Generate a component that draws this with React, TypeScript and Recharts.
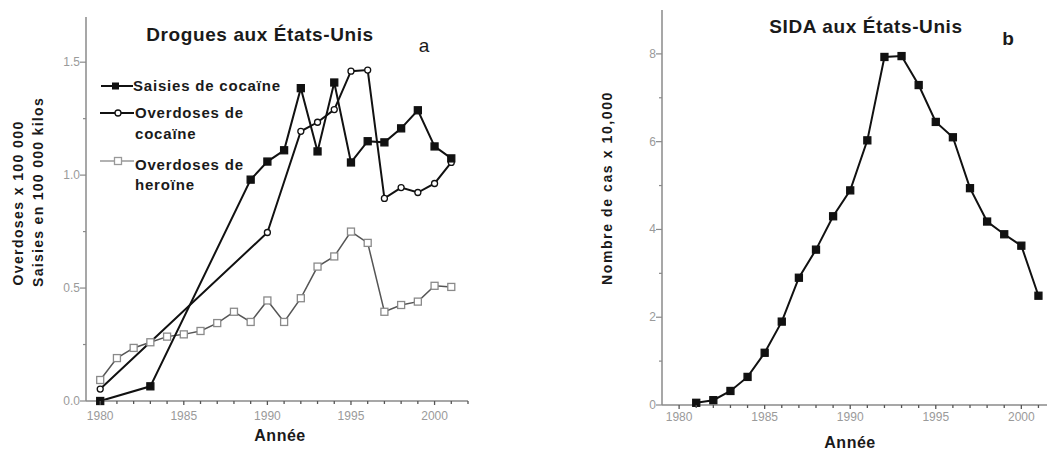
import React from "react";
import { LineChart, Line, XAxis, YAxis } from "recharts";

// --- data ---
const years = [1980, 1981, 1982, 1983, 1984, 1985, 1986, 1987, 1988, 1989, 1990, 1991, 1992, 1993, 1994, 1995, 1996, 1997, 1998, 1999, 2000, 2001];

const seizureYears = [1980, 1983, 1989, 1990, 1991, 1992, 1993, 1994, 1995, 1996, 1997, 1998, 1999, 2000, 2001];
const seizureValues = [0.0, 0.065, 0.98, 1.06, 1.11, 1.385, 1.105, 1.41, 1.056, 1.15, 1.145, 1.207, 1.287, 1.127, 1.074];

const cocaineOdYears = [1980, 1990, 1992, 1993, 1994, 1995, 1996, 1997, 1998, 1999, 2000, 2001];
const cocaineOdValues = [0.053, 0.746, 1.194, 1.234, 1.29, 1.46, 1.465, 0.897, 0.945, 0.923, 0.963, 1.056];

const heroinYears = years;
const heroinValues = [0.093, 0.19, 0.235, 0.26, 0.285, 0.295, 0.31, 0.345, 0.395, 0.35, 0.445, 0.35, 0.455, 0.595, 0.64, 0.75, 0.7, 0.395, 0.425, 0.44, 0.51, 0.505];

const aidsYears = [1981, 1982, 1983, 1984, 1985, 1986, 1987, 1988, 1989, 1990, 1991, 1992, 1993, 1994, 1995, 1996, 1997, 1998, 1999, 2000, 2001];
const aidsValues = [0.05, 0.11, 0.32, 0.64, 1.19, 1.9, 2.9, 3.54, 4.3, 4.89, 6.03, 7.93, 7.95, 7.29, 6.45, 6.1, 4.94, 4.18, 3.89, 3.63, 2.49];

const leftYTicks = [0, 0.25, 0.5, 0.75, 1.0, 1.25, 1.5];
const leftYLabels = ["0.0", "", "0.5", "", "1.0", "", "1.5"];
const leftXTicks = [1980, 1981, 1982, 1983, 1984, 1985, 1986, 1987, 1988, 1989, 1990, 1991, 1992, 1993, 1994, 1995, 1996, 1997, 1998, 1999, 2000, 2001, 2002];
const rightYTicks = [0, 1, 2, 3, 4, 5, 6, 7, 8];
const rightYLabels = ["0", "", "2", "", "4", "", "6", "", "8"];
const rightXTicks = [1980, 1981, 1982, 1983, 1984, 1985, 1986, 1987, 1988, 1989, 1990, 1991, 1992, 1993, 1994, 1995, 1996, 1997, 1998, 1999, 2000, 2001];
const majorYears = [1980, 1985, 1990, 1995, 2000];

const lookup = (ys: number[], vs: number[], y: number) => {
  const i = ys.indexOf(y);
  return i < 0 ? null : vs[i];
};

const drugData = years.map((y) => ({
  year: y,
  seizures: lookup(seizureYears, seizureValues, y),
  cocaineOd: lookup(cocaineOdYears, cocaineOdValues, y),
  heroin: lookup(heroinYears, heroinValues, y),
}));

const aidsData = aidsYears.map((y, i) => ({ year: y, cases: aidsValues[i] }));

const FONT = '"Liberation Sans", Arial, sans-serif';
const AXIS = "#8a8a8a";
const TICK_TEXT = "#9a9a9a";

const squareDot = (fill: string, stroke: string, size: number) => (p: any) => {
  const { cx, cy, index, value } = p;
  if (cx == null || cy == null || value == null || (Array.isArray(value) && value[1] == null)) {
    return <g key={`e-${index}`} />;
  }
  return (
    <rect key={`s-${index}`} x={cx - size / 2} y={cy - size / 2} width={size} height={size}
      fill={fill} stroke={stroke} strokeWidth={1.3} />
  );
};

const circleDot = (p: any) => {
  const { cx, cy, index, value } = p;
  if (cx == null || cy == null || value == null || (Array.isArray(value) && value[1] == null)) {
    return <g key={`e-${index}`} />;
  }
  return <circle key={`c-${index}`} cx={cx} cy={cy} r={3} fill="#fff" stroke="#111" strokeWidth={1.3} />;
};

const makeXTick = (labelDy: number) => (p: any) => {
  const { x, y, payload } = p;
  const major = majorYears.includes(payload.value);
  return (
    <g>
      <line x1={x} x2={x} y1={y} y2={y + (major ? 4 : 3)} stroke="#555" strokeWidth={1.3} />
      {major && (
        <text x={x} y={y + labelDy} textAnchor="middle" fontSize={12} fill={TICK_TEXT} fontFamily={FONT}>
          {payload.value}
        </text>
      )}
    </g>
  );
};

const makeYTick = (ticks: number[], labels: string[]) => (p: any) => {
  const { x, y, payload } = p;
  const label = labels[ticks.indexOf(payload.value)] || "";
  return (
    <g>
      <line x1={x - (label ? 6 : 3)} x2={x} y1={y} y2={y} stroke={AXIS} strokeWidth={1.2} />
      {label && (
        <text x={x - 6} y={y + 4} textAnchor="end" fontSize={12} fill={TICK_TEXT} fontFamily={FONT}>
          {label}
        </text>
      )}
    </g>
  );
};

export default function App() {
  return (
    <div style={{ position: "fixed", left: 0, top: 0, width: 1047, height: 450, background: "#fff", fontFamily: FONT }}>
      <div style={{ position: "absolute", left: 0, top: 0 }}>
        <LineChart width={480} height={450} data={drugData} margin={{ top: 17, right: 12, bottom: 0, left: 0 }}>
          <XAxis dataKey="year" type="number" domain={[1979.15, 2002]} ticks={leftXTicks} interval={0}
            height={49} tickSize={0} tickMargin={0} tickLine={false}
            axisLine={{ stroke: AXIS, strokeWidth: 1.5 }} tick={makeXTick(19)} />
          <YAxis type="number" domain={[0, 1.7]} ticks={leftYTicks} interval={0} width={86}
            tickSize={0} tickMargin={0} tickLine={false}
            axisLine={{ stroke: AXIS, strokeWidth: 1.5 }} tick={makeYTick(leftYTicks, leftYLabels)} />
          <Line dataKey="heroin" type="linear" stroke="#555" strokeWidth={1.5} connectNulls
            dot={squareDot("#fff", "#8a8a8a", 7)} activeDot={false} isAnimationActive={false} />
          <Line dataKey="cocaineOd" type="linear" stroke="#111" strokeWidth={2} connectNulls
            dot={circleDot} activeDot={false} isAnimationActive={false} />
          <Line dataKey="seizures" type="linear" stroke="#111" strokeWidth={2} connectNulls
            dot={squareDot("#111", "#111", 7)} activeDot={false} isAnimationActive={false} />
        </LineChart>
      </div>

      <div style={{ position: "absolute", left: 560, top: 0 }}>
        <LineChart width={487} height={450} data={aidsData} margin={{ top: 10, right: 0, bottom: 0, left: 0 }}>
          <XAxis dataKey="year" type="number" domain={[1979, 2001.5]} ticks={rightXTicks} interval={0}
            height={45} tickSize={0} tickMargin={0} tickLine={false}
            axisLine={{ stroke: AXIS, strokeWidth: 1.5 }} tick={makeXTick(16)} />
          <YAxis type="number" domain={[0, 9]} ticks={rightYTicks} interval={0} width={102}
            tickSize={0} tickMargin={0} tickLine={false}
            axisLine={{ stroke: AXIS, strokeWidth: 1.5 }} tick={makeYTick(rightYTicks, rightYLabels)} />
          <Line dataKey="cases" type="linear" stroke="#111" strokeWidth={2}
            dot={squareDot("#111", "#111", 7)} activeDot={false} isAnimationActive={false} />
        </LineChart>
      </div>

      <svg width={1047} height={450} style={{ position: "absolute", left: 0, top: 0, pointerEvents: "none" }}>
        <g fontFamily={FONT} fill="#1a1a1a">
          {/* panel a */}
          <text x={260} y={41} textAnchor="middle" fontSize={19} fontWeight="bold" letterSpacing={0.6}>Drogues aux États-Unis</text>
          <text x={424} y={52} textAnchor="middle" fontSize={19}>a</text>

          <line x1={101} x2={133} y1={86} y2={86} stroke="#111" strokeWidth={2} />
          <rect x={112} y={82.5} width={7} height={7} fill="#111" />
          <text x={133} y={91} fontSize={15} fontWeight="bold" letterSpacing={0.8}>Saisies de cocaïne</text>

          <line x1={100} x2={134} y1={113} y2={113} stroke="#111" strokeWidth={2} />
          <circle cx={118} cy={113} r={3} fill="#fff" stroke="#111" strokeWidth={1.3} />
          <text x={135} y={118} fontSize={15} fontWeight="bold" letterSpacing={0.8}>Overdoses de</text>
          <text x={135} y={139} fontSize={15} fontWeight="bold" letterSpacing={0.8}>cocaïne</text>

          <line x1={100} x2={134} y1={161} y2={161} stroke="#999" strokeWidth={1.3} />
          <rect x={114.5} y={157.5} width={7} height={7} fill="#fff" stroke="#999" strokeWidth={1.3} />
          <text x={135} y={170} fontSize={15} fontWeight="bold" letterSpacing={0.8}>Overdoses de</text>
          <text x={135} y={190} fontSize={15} fontWeight="bold" letterSpacing={0.8}>heroïne</text>

          <text x={18} y={203} transform="rotate(-90 18 203)" textAnchor="middle" dominantBaseline="central"
            fontSize={14} fontWeight="bold" letterSpacing={1.4}>Overdoses x 100 000</text>
          <text x={38} y={192} transform="rotate(-90 38 192)" textAnchor="middle" dominantBaseline="central"
            fontSize={14} fontWeight="bold" letterSpacing={1.3}>Saisies en 100 000 kilos</text>

          <text x={280} y={441} textAnchor="middle" fontSize={16} fontWeight="bold" letterSpacing={0.5}>Année</text>

          {/* panel b */}
          <text x={866} y={33} textAnchor="middle" fontSize={19} fontWeight="bold" letterSpacing={0.6}>SIDA aux États-Unis</text>
          <text x={1008} y={45} textAnchor="middle" fontSize={19} fontWeight="bold">b</text>

          <text x={607} y={188} transform="rotate(-90 607 188)" textAnchor="middle" dominantBaseline="central"
            fontSize={14} fontWeight="bold" letterSpacing={1.6}>Nombre de cas  x 10,000</text>

          <text x={850} y={448} textAnchor="middle" fontSize={16} fontWeight="bold" letterSpacing={0.5}>Année</text>
        </g>
      </svg>
    </div>
  );
}
